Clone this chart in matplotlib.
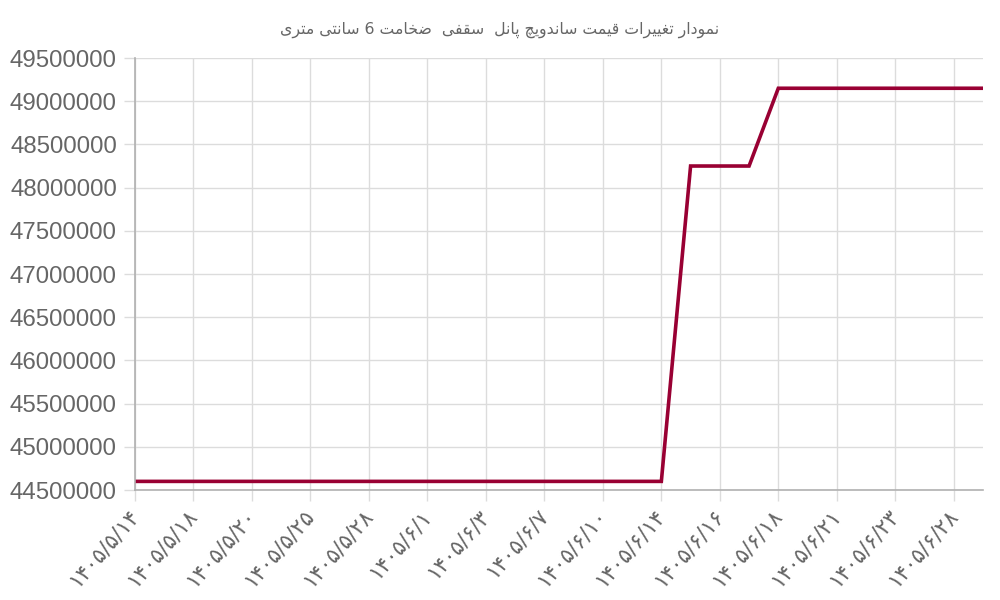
import numpy as np
import matplotlib
matplotlib.use('Agg')
import matplotlib.pyplot as plt

title = 'نمودار تغییرات قیمت ساندویچ پانل  سقفی  ضخامت 6 سانتی متری'

# 30 points, only every other label is shown on the axis
dates = ['۱۴۰۵/۵/۱۴', '۱۴۰۵/۵/۱۶', '۱۴۰۵/۵/۱۸', '۱۴۰۵/۵/۱۹', '۱۴۰۵/۵/۲۰',
         '۱۴۰۵/۵/۲۲', '۱۴۰۵/۵/۲۵', '۱۴۰۵/۵/۲۷', '۱۴۰۵/۵/۲۸', '۱۴۰۵/۵/۳۰',
         '۱۴۰۵/۶/۱', '۱۴۰۵/۶/۲', '۱۴۰۵/۶/۳', '۱۴۰۵/۶/۵', '۱۴۰۵/۶/۷',
         '۱۴۰۵/۶/۸', '۱۴۰۵/۶/۱۰', '۱۴۰۵/۶/۱۲', '۱۴۰۵/۶/۱۴', '۱۴۰۵/۶/۱۵',
         '۱۴۰۵/۶/۱۶', '۱۴۰۵/۶/۱۷', '۱۴۰۵/۶/۱۸', '۱۴۰۵/۶/۱۹', '۱۴۰۵/۶/۲۱',
         '۱۴۰۵/۶/۲۲', '۱۴۰۵/۶/۲۳', '۱۴۰۵/۶/۲۵', '۱۴۰۵/۶/۲۸', '۱۴۰۵/۶/۳۰']
prices = [44600000] * 19 + [48250000] * 3 + [49150000] * 8

y_ticks = [44500000, 45000000, 45500000, 46000000, 46500000,
           47000000, 47500000, 48000000, 48500000, 49000000, 49500000]

# minimal persian shaping: (isolated, final, initial, medial); None = no left join
FORMS = {
    'ا': ('\uFE8D', '\uFE8E', None, None),
    'د': ('\uFEA9', '\uFEAA', None, None),
    'ر': ('\uFEAD', '\uFEAE', None, None),
    'و': ('\uFEED', '\uFEEE', None, None),
    'ت': ('\uFE95', '\uFE96', '\uFE97', '\uFE98'),
    'ن': ('\uFEE5', '\uFEE6', '\uFEE7', '\uFEE8'),
    'م': ('\uFEE1', '\uFEE2', '\uFEE3', '\uFEE4'),
    'غ': ('\uFECD', '\uFECE', '\uFECF', '\uFED0'),
    'ی': ('\uFEEF', '\uFEF0', '\uFEF3', '\uFEF4'),
    'ق': ('\uFED5', '\uFED6', '\uFED7', '\uFED8'),
    'س': ('\uFEB1', '\uFEB2', '\uFEB3', '\uFEB4'),
    'چ': ('\uFB7A', '\uFB7B', '\uFB7C', '\uFB7D'),
    'پ': ('\uFB56', '\uFB57', '\uFB58', '\uFB59'),
    'ل': ('\uFEDD', '\uFEDE', '\uFEDF', '\uFEE0'),
    'ف': ('\uFED1', '\uFED2', '\uFED3', '\uFED4'),
    'ض': ('\uFEBD', '\uFEBE', '\uFEBF', '\uFEC0'),
    'خ': ('\uFEA5', '\uFEA6', '\uFEA7', '\uFEA8'),
}

def shape(text):
    out = []
    for i, ch in enumerate(text):
        if ch not in FORMS:
            out.append(ch)
            continue
        prev = text[i - 1] if i > 0 else ''
        nxt = text[i + 1] if i + 1 < len(text) else ''
        join_prev = prev in FORMS and FORMS[prev][2] is not None
        join_next = nxt in FORMS and FORMS[ch][2] is not None
        iso, fin, ini, med = FORMS[ch]
        if join_prev and join_next:
            out.append(med)
        elif join_prev:
            out.append(fin)
        elif join_next:
            out.append(ini)
        else:
            out.append(iso)
    return ''.join(out)[::-1]

plt.rcParams['font.family'] = ['Liberation Sans', 'DejaVu Sans']

fig = plt.figure(figsize=(10, 6), dpi=100)
ax = fig.add_axes([0.135, 0.1833, 0.848, 0.72])

x = np.arange(len(dates))
ax.plot(x, prices, color='#990033', lw=2.6, solid_joinstyle='miter')

ax.set_xlim(0, len(dates) - 1)
ax.set_ylim(y_ticks[0], y_ticks[-1])
ax.set_yticks(y_ticks)
ax.set_yticklabels([str(v) for v in y_ticks], fontsize=17.3, color='#666666')
ax.set_xticks(x[::2])
ax.set_xticklabels(dates[::2], rotation=49, ha='right', va='center',
                   rotation_mode='anchor', fontsize=15.5, color='#666666',
                   family='DejaVu Sans')

ax.grid(True, color='#dcdcdc', lw=1)
ax.set_axisbelow(True)
ax.tick_params(axis='y', length=8, color='#dcdcdc', width=1, pad=5)
ax.tick_params(axis='x', length=8, color='#dcdcdc', width=1, pad=8)
for s in ['top', 'right']:
    ax.spines[s].set_visible(False)
for s in ['left', 'bottom']:
    ax.spines[s].set_color('#b0b0b0')
    ax.spines[s].set_linewidth(1.2)

fig.text(0.5, 0.95, shape(title), ha='center', va='center', fontsize=11.3,
         color='#666666', family='DejaVu Sans')

fig.savefig('out.png', dpi=100)
